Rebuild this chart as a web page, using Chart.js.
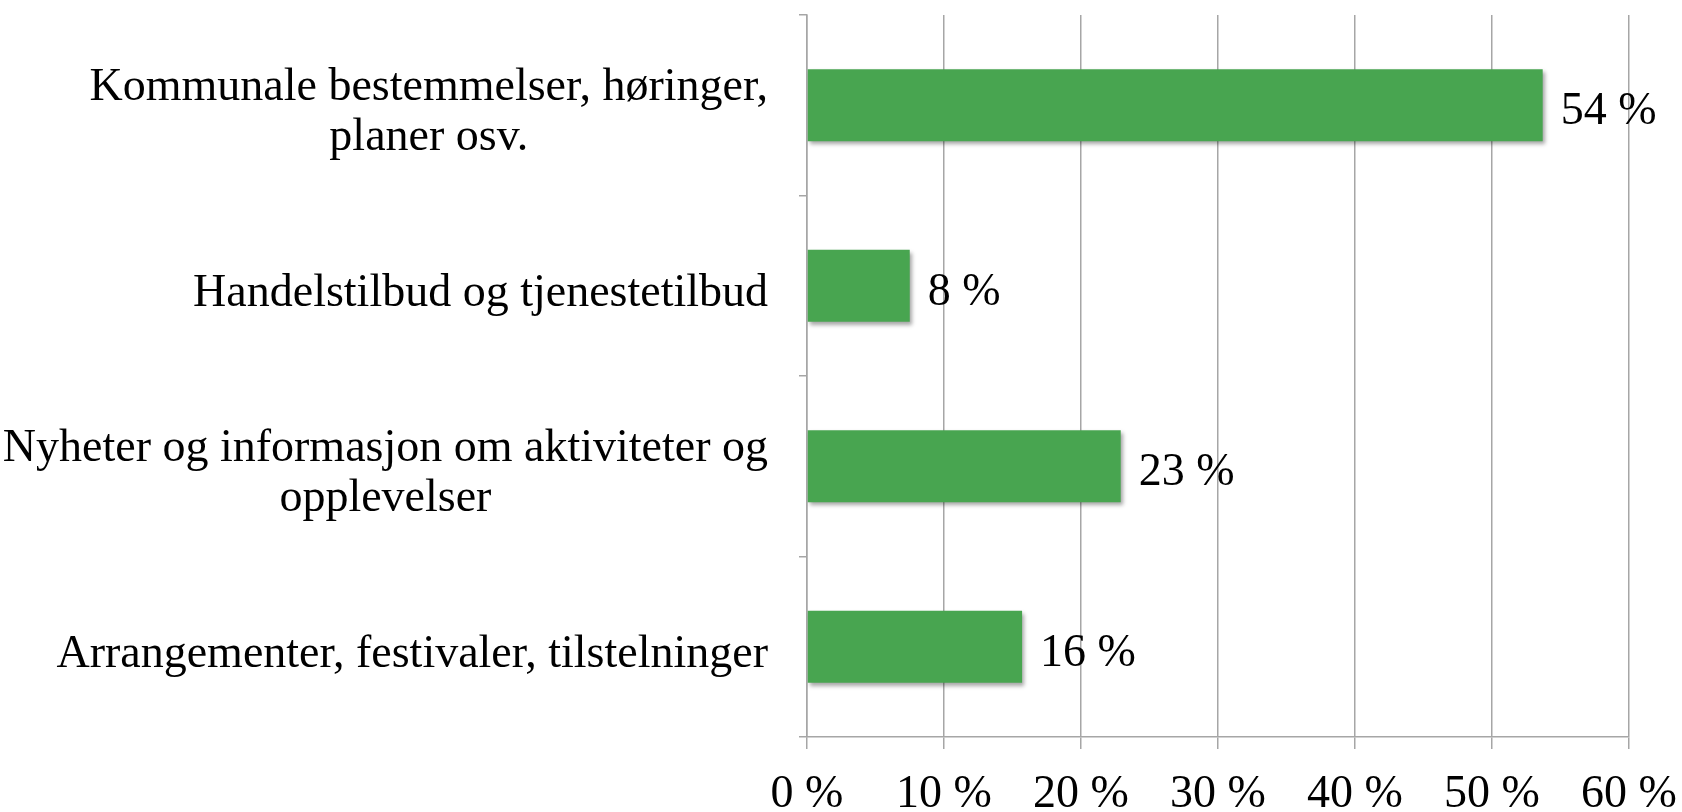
<!DOCTYPE html>
<html lang="no">
<head>
    <meta charset="UTF-8">
    <title>Andel per kategori</title>
    <style>
        body {
            margin: 0;
            background: #fff;
        }
        #chart-container {
            width: 1682px;
            height: 812px;
        }
    </style>
    <script src="https://cdn.jsdelivr.net/npm/chart.js"></script>
</head>
<body>
    <div id="chart-container">
        <canvas id="barChart" width="1682" height="812"></canvas>
    </div>

    <script>
        // kategorier (linjeskift som i originalen)
        const categories = [
            ['Kommunale bestemmelser, høringer,', 'planer osv.'],
            ['Handelstilbud og tjenestetilbud'],
            ['Nyheter og informasjon om aktiviteter og', 'opplevelser'],
            ['Arrangementer, festivaler, tilstelninger']
        ];
        const values = [53.7, 7.5, 22.9, 15.7];
        const valueLabels = ['54 %', '8 %', '23 %', '16 %'];
        const xTicks = [0, 10, 20, 30, 40, 50, 60];

        const FONT = '"Liberation Serif", "Times New Roman", serif';
        const FONT_SIZE = 46;
        const GRID = '#a6a6a6';

        // skygge under stolpene
        const shadowPlugin = {
            id: 'barShadow',
            beforeDatasetDraw(chart) {
                const ctx = chart.ctx;
                ctx.save();
                ctx.shadowColor = 'rgba(0,0,0,0.35)';
                ctx.shadowBlur = 4;
                ctx.shadowOffsetX = 2;
                ctx.shadowOffsetY = 3;
            },
            afterDatasetDraw(chart) {
                chart.ctx.restore();
            }
        };

        // kategoritekst (sentrert linje for linje) og verdietiketter
        const labelPlugin = {
            id: 'labels',
            afterDraw(chart) {
                const ctx = chart.ctx;
                const yScale = chart.scales.y;
                ctx.save();
                ctx.font = FONT_SIZE + 'px ' + FONT;
                ctx.fillStyle = '#000';
                ctx.textBaseline = 'middle';
                ctx.textAlign = 'center';
                const rightEdge = yScale.right - 39;
                const lineGap = 50;
                categories.forEach((lines, i) => {
                    const y = yScale.getPixelForValue(i);
                    const widest = Math.max(...lines.map(l => ctx.measureText(l).width));
                    const cx = rightEdge - widest / 2;
                    lines.forEach((line, j) => {
                        ctx.fillText(line, cx, y + (j - (lines.length - 1) / 2) * lineGap + 8);
                    });
                });

                ctx.textAlign = 'left';
                const meta = chart.getDatasetMeta(0);
                meta.data.forEach((bar, i) => {
                    ctx.fillText(valueLabels[i], bar.x + 18, bar.y + 7);
                });
                ctx.restore();
            }
        };

        const ctx = document.getElementById('barChart').getContext('2d');
        new Chart(ctx, {
            type: 'bar',
            data: {
                labels: categories,
                datasets: [{
                    data: values,
                    backgroundColor: '#48a550',
                    borderWidth: 0,
                    barPercentage: 0.4,
                    categoryPercentage: 1.0
                }]
            },
            options: {
                indexAxis: 'y',
                responsive: false,
                animation: false,
                devicePixelRatio: 1,
                layout: {
                    padding: { top: 15, right: 53, left: 0, bottom: 0 }
                },
                plugins: {
                    legend: { display: false },
                    tooltip: { enabled: false }
                },
                scales: {
                    x: {
                        min: 0,
                        max: 60,
                        afterBuildTicks(scale) {
                            scale.ticks = xTicks.map(v => ({ value: v }));
                        },
                        afterFit(scale) {
                            scale.height = 75;
                            scale.paddingLeft = 0;
                            scale.paddingRight = 0;
                        },
                        grid: {
                            color: GRID,
                            lineWidth: 1.5,
                            tickLength: 12
                        },
                        border: {
                            color: GRID,
                            width: 1.5
                        },
                        ticks: {
                            padding: 18,
                            color: '#000',
                            font: { family: FONT, size: FONT_SIZE },
                            callback: v => v + ' %'
                        }
                    },
                    y: {
                        afterFit(scale) {
                            scale.width = 807;
                        },
                        grid: {
                            drawOnChartArea: false,
                            color: GRID,
                            lineWidth: 1.5,
                            tickLength: 8
                        },
                        border: {
                            color: GRID,
                            width: 1.5
                        },
                        ticks: {
                            display: false
                        }
                    }
                }
            },
            plugins: [shadowPlugin, labelPlugin]
        });
    </script>
</body>
</html>
